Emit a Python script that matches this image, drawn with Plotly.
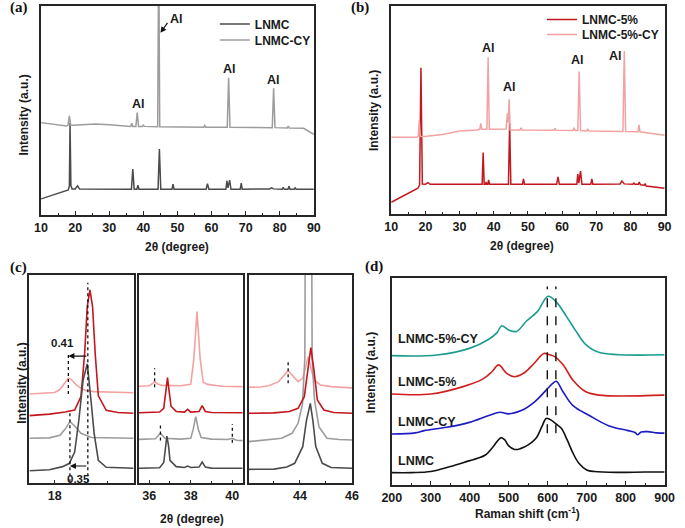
import plotly.graph_objects as go

W, H = 685, 528
FONT = "Liberation Sans, Arial, sans-serif"
SERIF = "Liberation Serif, Times New Roman, serif"

# ---------------- Panel (a) XRD ----------------
a_lnmc_x = [10, 18.0, 18.3, 18.5, 18.75, 19.1, 20.0, 20.7, 21.3, 30, 36.5, 36.9, 37.3, 38.1, 38.4, 38.7, 44.3, 44.7, 45.1,
            48.4, 48.7, 49.0, 58.4, 58.8, 59.2, 64.2, 64.5, 64.8, 65.3, 65.7, 68.4, 68.7, 69.0, 77, 77.6, 78.2,
            80.7, 81.0, 81.3, 82.4, 82.7, 83.0, 84.2, 84.5, 84.8, 90]
a_lnmc_y = [7.7, 12, 14, 44, 14, 12.5, 12.5, 14, 12.4, 12.3, 12.3, 22, 12.3, 12.3, 14.3, 12.3, 12.3, 31.6, 12.3,
            12.3, 14.8, 12.3, 12.3, 15, 12.3, 12.3, 16.3, 13, 16.7, 12.3, 12.3, 15.2, 12.3, 12.5, 13, 12.5,
            12.3, 13.2, 12.3, 12.3, 13.7, 12.3, 12.3, 13, 12.3, 12.3]
a_cy_x = [10, 14, 17.5, 17.9, 18.3, 18.7, 19.5, 22, 26, 30, 35, 36.3, 36.6, 36.9, 37.8, 38.2, 38.6, 39.7, 40.0, 40.3,
          44.2, 44.5, 44.8, 50, 57.7, 58.0, 58.3, 64.6, 65.0, 65.4, 70, 77.8, 78.2, 78.6, 82.2, 82.5, 82.8, 87, 90]
a_cy_y = [44.2, 43.5, 42.6, 43, 47.4, 43, 42.9, 43.2, 43.5, 43.2, 42.4, 42.4, 43.9, 42.4, 42.4, 49, 42.4, 42.4, 43, 42.4,
          42.2, 130, 42.2, 42, 42, 42.8, 42, 42, 65.7, 42, 42, 41.8, 60.6, 41.8, 41.6, 42.5, 41.6, 41.5, 38.6]
a_al_x = [38.5, 65.2, 78.2]
a_al_y = [53, 70, 64.5]

# ---------------- Panel (b) XRD ----------------
b_5_x = [10, 17.8, 18.3, 18.7, 19.1, 20.0, 20.7, 21.4, 30, 36.6, 36.9, 37.2, 37.6, 37.8, 38.0, 38.3, 38.5, 38.8, 44.3, 44.65,
         45.0, 48.4, 48.7, 49.0, 58.4, 58.8, 59.2, 64.3, 64.6, 64.9, 65.4, 65.8, 68.4, 68.7, 69.0, 77, 77.5, 78.2, 80.7, 81.0,
         81.3, 82.3, 82.6, 82.9, 84.0, 84.3, 84.6, 90]
b_5_y = [5.8, 12.5, 14, 70.4, 14.5, 14.4, 15.2, 14.4, 14.4, 14.4, 29.6, 14.4, 14.4, 15.5, 14.4, 14.4, 16.5, 14.4, 14.4, 43.7,
         14.4, 14.4, 17, 14.4, 14.4, 18, 14.4, 14.4, 19.3, 15, 20.8, 14.4, 14.4, 17, 14.4, 14.6, 16, 14.6, 14.4, 15,
         14.4, 14.4, 15.5, 14.2, 14, 14.5, 13.6, 12.5]
b_5cy_x = [10, 17.5, 17.9, 18.2, 18.5, 19, 25, 30, 35, 35.9, 36.2, 36.5, 38.0, 38.35, 38.7, 43.6, 44.0, 44.25, 44.5, 44.8,
           47.7, 48.0, 48.3, 57.6, 57.9, 58.2, 63.2, 63.5, 63.8, 64.6, 65.0, 65.4, 67.2, 67.5, 67.8, 77.8, 78.2, 78.6, 82.2, 82.5,
           82.8, 90]
b_5cy_y = [37, 37, 37.5, 45, 37.5, 37.2, 38.3, 40, 40.5, 40.8, 43.7, 40.8, 40.8, 75.4, 40.8, 41, 48.5, 44, 55.2, 40.5,
           40.5, 41.5, 40.5, 40.3, 41.3, 40.3, 40.2, 41.5, 40.2, 40.2, 68.5, 40.2, 40, 41, 40, 39.8, 78.4, 39.8, 39.6, 42.9,
           39.6, 38]
b_al_x = [38.4, 44.5, 64.6, 75.7]
b_al_y = [80, 61, 74, 76]

# ---------------- Panel (c) zoomed XRD ----------------
c1_5cy_x = [17.52, 17.8, 18.0, 18.1, 18.2, 18.26, 18.32, 18.4, 18.5, 18.6, 18.75, 19.0, 19.5]
c1_5cy_y = [42.9, 43.1, 43.6, 45, 48.5, 50.4, 49.8, 47.5, 45.6, 44.5, 44, 43.8, 43.5]
c1_5_x = [17.52, 17.9, 18.2, 18.38, 18.5, 18.57, 18.62, 18.67, 18.72, 18.77, 18.83, 18.98, 19.2, 19.5]
c1_5_y = [32.5, 33.2, 34.2, 35.2, 41.6, 62.4, 85, 92.8, 85, 62.4, 42, 35, 34, 33.6]
c1_cy_x = [17.52, 17.9, 18.1, 18.2, 18.29, 18.38, 18.5, 18.7, 19.5]
c1_cy_y = [21.6, 21.8, 23, 26, 29.6, 27.5, 24, 22, 21.6]
c1_ln_x = [17.52, 17.9, 18.15, 18.28, 18.38, 18.46, 18.54, 18.62, 18.69, 18.75, 18.83, 18.98, 19.5]
c1_ln_y = [6, 6.5, 8, 9.6, 15, 30.4, 49.6, 57.3, 40, 24, 11, 7.7, 7.2]

c2_5cy_x = [35.5, 36.0, 36.15, 36.26, 36.4, 36.6, 37.5, 38.0, 38.15, 38.3, 38.45, 38.6, 38.8, 39.5, 40.5]
c2_5cy_y = [46.6, 46.8, 47.8, 48.8, 47.8, 47, 46.8, 47.5, 60, 82.4, 60, 48.5, 47.5, 46.6, 46.4]
c2_5_x = [35.5, 36.5, 36.7, 36.8, 36.88, 36.96, 37.05, 37.3, 37.7, 37.85, 38.0, 38.4, 38.55, 38.7, 39.0, 40.5]
c2_5_y = [33.9, 34.2, 36, 44, 50.7, 44, 37, 34.5, 34.2, 35.5, 34.2, 34.5, 37.3, 34.5, 34, 33.9]
c2_cy_x = [35.5, 36.3, 36.54, 36.75, 37.5, 38.0, 38.12, 38.24, 38.36, 38.5, 39.0, 39.8, 40.0, 40.2, 40.5]
c2_cy_y = [21.1, 21.4, 24, 21.6, 21.2, 21.6, 26, 32, 26, 22, 21.2, 21, 21.6, 20.7, 20.5]
c2_ln_x = [35.5, 36.5, 36.7, 36.78, 36.85, 36.93, 37.0, 37.3, 37.7, 37.85, 38.0, 38.4, 38.55, 38.7, 39.0, 40.5]
c2_ln_y = [7.2, 7.5, 10, 18, 22.7, 18, 11, 8, 7.6, 8.3, 7.6, 7.8, 10.2, 7.8, 7.3, 7.2]

c3_5cy_x = [42.03, 42.5, 42.81, 43.18, 43.55, 43.93, 44.11, 44.32, 44.54, 44.79, 45.2, 46.0]
c3_5cy_y = [46.1, 46.2, 46.8, 48.8, 54.1, 48.8, 50.4, 60.8, 49.6, 47.2, 46.4, 45.8]
c3_5_x = [42.03, 43.0, 43.6, 43.93, 44.17, 44.3, 44.42, 44.54, 44.67, 44.92, 45.3, 46.0]
c3_5_y = [33.6, 33.8, 34.5, 36, 41.6, 54.4, 65.1, 54.4, 40, 35.2, 34, 33.6]
c3_cy_x = [42.03, 43.3, 43.7, 43.93, 44.1, 44.19, 44.21, 44.45, 44.47, 44.56, 44.73, 45.04, 45.5, 46.0]
c3_cy_y = [20, 21.6, 24, 28.8, 38, 60, 130, 130, 60, 40, 27.2, 21.6, 21, 20.8]
c3_ln_x = [42.03, 43.0, 43.5, 43.8, 44.11, 44.25, 44.4, 44.5, 44.61, 44.86, 45.2, 46.0]
c3_ln_y = [6.7, 6.8, 7.8, 9.6, 17.6, 30, 38.4, 30, 17.6, 9.6, 7.6, 7.2]

# dotted guide lines in (c): (panel, x, y_low, y_high)
c_guides = [(1, 18.63, 0.5, 96.3), (1, 18.26, 42.9, 62.7), (1, 18.29, 0.5, 34),
            (2, 36.26, 46.1, 55.2), (2, 36.54, 20.5, 28.8), (2, 40.0, 19.5, 28.5),
            (3, 43.55, 48.0, 58.7)]
c_shift_labels = ["0.41", "0.35"]
c_shift_from = [18.63, 18.63]
c_shift_to = [18.26, 18.29]
c_shift_y = [61.1, 8.3]
c_label_x = [18.14, 18.46]
c_label_y = [67.2, 1.9]

# ---------------- Panel (d) Raman ----------------
d_ln_x = [200, 250, 300, 350, 400, 420, 440, 460, 470, 480, 490, 500, 515, 530, 550, 570, 585, 596, 605, 620,
          635, 650, 665, 680, 700, 720, 780, 850, 900]
d_ln_y = [6.0, 6.0, 6.5, 8.9, 11.8, 12.9, 14.5, 18.5, 21.0, 22.9, 21.8, 18.9, 17.2, 17.6, 19.4, 22.6, 28.2, 32.2, 31.8, 29.8,
          27.4, 21.8, 15.4, 10.5, 7.3, 6.5, 6.1, 6.3, 6.3]
d_cy_x = [200, 260, 283, 341, 399, 449, 478, 499, 532, 565, 599, 612, 622, 640, 665, 707, 756, 806, 825, 830,
          840, 856, 880, 900]
d_cy_y = [24.7, 25.2, 26.3, 27.9, 30.3, 33.6, 35.2, 34.4, 36.0, 40.0, 46.5, 49, 50.2, 44.9, 38.4, 33.6, 28.7, 26.3, 25.3, 24.3,
          25.6, 25.8, 25.2, 25.1]
d_5_x = [200, 300, 383, 433, 457, 474, 495, 515, 540, 565, 590, 605, 619, 640, 665, 698, 731, 900]
d_5_y = [44.0, 44.0, 47.6, 51.2, 54.8, 58.1, 54.0, 52.4, 54.3, 58.8, 63.6, 63.0, 62.0, 58.0, 50.7, 45.1, 43.5, 43.5]
d_5cy_x = [200, 316, 399, 449, 470, 482, 499, 520, 545, 574, 601, 624, 648, 673, 698, 731, 900]
d_5cy_y = [62.6, 62.9, 66.1, 70.5, 73.7, 77.0, 75.1, 74.3, 79.2, 84.0, 91.3, 88.1, 81.6, 74.3, 67.9, 64.2, 63.0]
d_dash_x = [599, 621]
d_dash_y = [25, 96]
d_names = ["LNMC-5%-CY", "LNMC-5%", "LNMC-CY", "LNMC"]
d_name_y = [70.5, 50, 30.3, 11.6]

# ---------------- colours ----------------
C_LN = "#4b4b4b"
C_CY = "#9c9c9c"
C_5 = "#c3161d"
C_5CY = "#f3a2a2"
D_LN, D_CY, D_5, D_5CY = "#111111", "#1c1cc2", "#d01f1f", "#1c9c8e"


def px2x(px):
    return px / W


def py2y(py):
    return 1 - py / H


def clamp(v):
    return min(1.0, max(0.0, v))


fig = go.Figure()


def line(x, y, color, ax, name=None, legend=None, width=1.5, dash=None, shape="linear"):
    fig.add_trace(go.Scatter(
        x=x, y=y, mode="lines", name=name,
        line=dict(color=color, width=width, dash=dash, shape=shape),
        xaxis=ax[0], yaxis=ax[1],
        showlegend=name is not None, legend=legend, hoverinfo="skip"))


# panel a
line(a_lnmc_x, a_lnmc_y, C_LN, ("x", "y"), "<b>LNMC</b>", "legend")
line(a_cy_x, a_cy_y, C_CY, ("x", "y"), "<b>LNMC-CY</b>", "legend2")
# panel b
line(b_5_x, b_5_y, C_5, ("x2", "y2"), "<b>LNMC-5%</b>", "legend3")
line(b_5cy_x, b_5cy_y, C_5CY, ("x2", "y2"), "<b>LNMC-5%-CY</b>", "legend4")
# panel c
for axn, sets in [(3, [(c1_5cy_x, c1_5cy_y, C_5CY), (c1_5_x, c1_5_y, C_5), (c1_cy_x, c1_cy_y, C_CY), (c1_ln_x, c1_ln_y, C_LN)]),
                  (4, [(c2_5cy_x, c2_5cy_y, C_5CY), (c2_5_x, c2_5_y, C_5), (c2_cy_x, c2_cy_y, C_CY), (c2_ln_x, c2_ln_y, C_LN)]),
                  (5, [(c3_5cy_x, c3_5cy_y, C_5CY), (c3_cy_x, c3_cy_y, C_CY), (c3_5_x, c3_5_y, C_5), (c3_ln_x, c3_ln_y, C_LN)])]:
    for xs, ys, col in sets:
        line(xs, ys, col, (f"x{axn}", f"y{axn}"), width=1.6)
for pnl, gx, y0, y1 in c_guides:
    line([gx, gx], [y0, y1], "#111111", (f"x{pnl + 2}", f"y{pnl + 2}"), width=1.3, dash="dot")
# panel d
for xs, ys, col in [(d_ln_x, d_ln_y, D_LN), (d_cy_x, d_cy_y, D_CY), (d_5_x, d_5_y, D_5), (d_5cy_x, d_5cy_y, D_5CY)]:
    line(xs, ys, col, ("x6", "y6"), width=1.6, shape="spline")
for dxv in d_dash_x:
    line([dxv, dxv], d_dash_y, "#111111", ("x6", "y6"), width=1.4, dash="dash")

# ---------------- axes ----------------
tickfont = dict(family=FONT, size=12.5, color="#1a1a1a", weight="bold")
base_x = dict(showline=True, linecolor="#262626", linewidth=1.5, mirror=True, ticks="inside", ticklen=4,
              tickwidth=1.2, tickcolor="#262626", showgrid=False, zeroline=False, tickfont=tickfont,
              ticklabelstandoff=0)
base_y = dict(showline=True, linecolor="#262626", linewidth=1.5, mirror=True, ticks="", showticklabels=False,
              showgrid=False, zeroline=False, range=[0, 100])

domains = {
    1: ([32, 313], [6, 215]),
    2: ([392.7, 674.3], [6, 214.3]),
    3: ([20, 127.3], [275, 483.3]),
    4: ([132.7, 239.7], [275, 483.3]),
    5: ([245.7, 352.3], [275, 483.3]),
    6: ([393.3, 674.3], [278.3, 485]),
}
xranges = {1: [10, 90], 2: [10, 90], 3: [17.52, 19.5], 4: [35.5, 40.5], 5: [42.03, 46.0], 6: [200, 900]}
xdt = {1: (10, 5), 2: (10, 5), 3: (2, 1), 4: (2, 1), 5: (2, 1), 6: (100, 50)}

layout_axes = {}
for i in range(1, 7):
    sx = "" if i == 1 else str(i)
    (x0, x1), (y0, y1) = domains[i]
    dt, mdt = xdt[i]
    layout_axes[f"xaxis{sx}"] = dict(base_x, domain=[clamp(px2x(x0)), clamp(px2x(x1))], range=xranges[i],
                                     anchor=f"y{sx}", dtick=dt, tick0=0,
                                     minor=dict(ticks="inside", ticklen=2.5, dtick=mdt, tick0=0, tickcolor="#262626",
                                                tickwidth=1.1, showgrid=False))
    layout_axes[f"yaxis{sx}"] = dict(base_y, domain=[clamp(py2y(y1)), clamp(py2y(y0))], anchor=f"x{sx}")

# ---------------- annotations ----------------
ann = []
bold12 = dict(family=FONT, size=12.5, color="#1a1a1a", weight="bold")
for xv, yv in zip(a_al_x, a_al_y):
    ann.append(dict(x=xv, y=yv, xref="x", yref="y", text="Al", showarrow=False, font=bold12))
ann.append(dict(x=49.6, y=94, xref="x", yref="y", text="Al", showarrow=False, font=bold12))
ann.append(dict(x=45.0, y=87.2, ax=47.4, ay=92.6, xref="x", yref="y", axref="x", ayref="y", text="",
                showarrow=True, arrowhead=2, arrowsize=1, arrowwidth=1.2, arrowcolor="#111111"))
for xv, yv in zip(b_al_x, b_al_y):
    ann.append(dict(x=xv, y=yv, xref="x2", yref="y2", text="Al", showarrow=False, font=bold12))
for lab, xf, xt, yv, lx, ly in zip(c_shift_labels, c_shift_from, c_shift_to, c_shift_y, c_label_x, c_label_y):
    ann.append(dict(x=xt, y=yv, ax=xf, ay=yv, xref="x3", yref="y3", axref="x3", ayref="y3", text="",
                    showarrow=True, arrowhead=2, arrowsize=1, arrowwidth=1.2, arrowcolor="#111111"))
    ann.append(dict(x=lx, y=ly, xref="x3", yref="y3", text=lab, showarrow=False,
                    font=dict(family=FONT, size=11.5, color="#1a1a1a", weight="bold")))
for nm, yv in zip(d_names, d_name_y):
    ann.append(dict(x=212, y=yv, xref="x6", yref="y6", text=nm, showarrow=False, xanchor="left", font=bold12))

title_font = dict(family=FONT, size=12, color="#1a1a1a", weight="bold")


def ptext(text, px, py, angle=0, font=title_font):
    ann.append(dict(x=px2x(px), y=py2y(py), xref="paper", yref="paper", text=text, showarrow=False,
                    textangle=angle, font=font, xanchor="center", yanchor="middle"))


ptext("2θ (degree)", 172, 247)
ptext("2θ (degree)", 527, 246)
ptext("2θ (degree)", 187, 519)
ptext("Raman shift (cm<sup>-1</sup>)", 533, 513)
ptext("Intensity (a.u.)", 14, 115, -90)
ptext("Intensity (a.u.)", 375, 111, -90)
ptext("Intensity (a.u.)", 12, 383, -90)
ptext("Intensity (a.u.)", 372, 373, -90)
pfont = dict(family=SERIF, size=15, color="#111111", weight="bold")
ptext("(a)", 9, 8, font=pfont)
ptext("(b)", 361, 8, font=pfont)
ptext("(c)", 9, 267, font=pfont)
ptext("(d)", 375, 266, font=pfont)

legfont = dict(family=FONT, size=12, color="#1a1a1a")


def leg(px, py):
    return dict(x=px2x(px), y=py2y(py), xanchor="left", yanchor="middle", bgcolor="rgba(0,0,0,0)",
                font=legfont, itemwidth=30, borderwidth=0)


fig.update_layout(
    width=W, height=H, margin=dict(l=0, r=0, t=0, b=0),
    paper_bgcolor="white", plot_bgcolor="white",
    annotations=ann,
    legend=leg(211, 24), legend2=leg(211, 40),
    legend3=leg(548, 19.5), legend4=leg(548, 34.5),
    **layout_axes,
)

# place the figure at the very top-left of the page (no default body margin)
page_css = ("document.body.style.margin='0px';document.body.style.padding='0px';"
            "document.documentElement.style.overflow='hidden';")
fig.write_html("out.html", post_script=page_css, config={"displayModeBar": False})
